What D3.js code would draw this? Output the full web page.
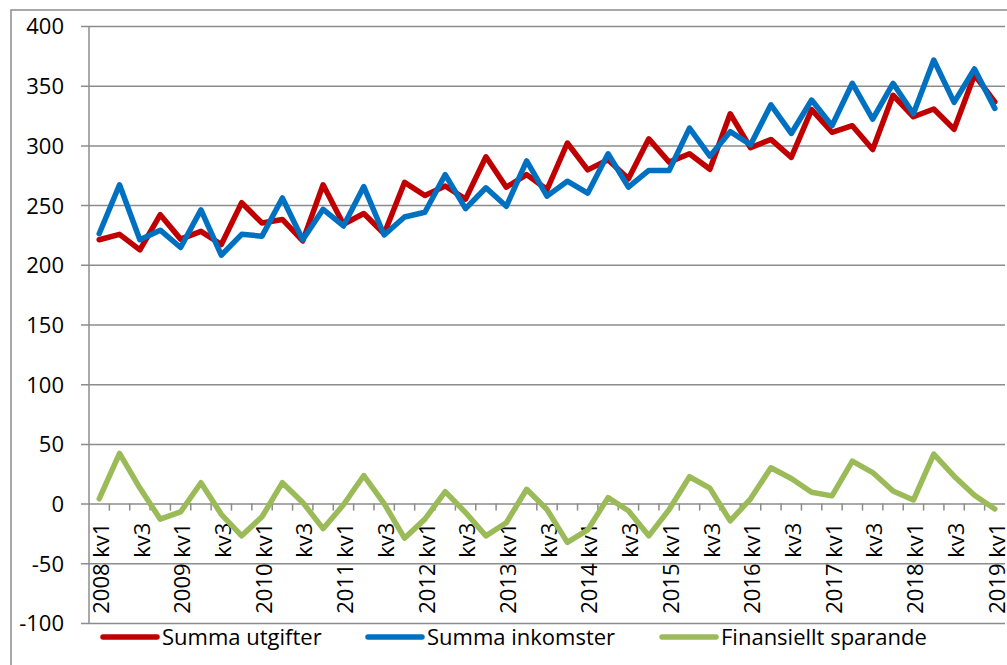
<!DOCTYPE html>
<html>
<head>
<meta charset="utf-8">
<script src="https://cdn.jsdelivr.net/npm/d3@7"></script>
<style>
    body { margin: 0; background: #fff; }
    text { font-family: "Open Sans", "Liberation Sans", sans-serif; fill: #000; }
</style>
</head>
<body>
<div id="chart"></div>
<script>
"use strict";

// quarters 2008 kv1 .. 2019 kv1
var years = [2008, 2009, 2010, 2011, 2012, 2013, 2014, 2015, 2016, 2017, 2018, 2019];
var quarterNames = ["kv1", "kv2", "kv3", "kv4"];
var shownQuarters = ["kv1", "kv3"];
var yTicks = [-100, -50, 0, 50, 100, 150, 200, 250, 300, 350, 400];

var utgifter = [221, 225.5, 212.5, 242, 221.5, 228, 217, 252, 235, 238, 220, 267,
    234, 243, 226, 269, 258, 266, 255, 290.5, 265, 275.5, 263, 302,
    279.5, 288, 272, 305.5, 286, 293, 280, 326.5, 298, 305, 290, 330,
    311, 316.5, 296.5, 342, 324, 330.5, 313.5, 359, 336.5];
var inkomster = [226, 267, 221, 229, 214.5, 246, 208, 225.5, 224, 256, 221, 246.5,
    232.5, 265.5, 225, 240, 244, 275.5, 247, 264.5, 249, 287, 257.5, 270,
    260, 293, 265, 279, 279, 314.5, 291, 311.5, 300.5, 334, 310, 338,
    316.5, 352, 322, 352, 326.5, 371.5, 336, 364, 331];
var sparande = [4, 42, 13, -13, -7, 17.5, -9, -27, -11, 17.5, 1, -21,
    -1, 23.5, 0, -29, -13, 10, -7.5, -27, -16, 12, -5, -32.5,
    -22, 5, -6, -27, -5, 22.5, 13, -14.5, 4, 30, 21, 9.5,
    6.5, 35.5, 26, 10.5, 3, 41.5, 23, 7, -4.5];

var seriesNames = ["Summa utgifter", "Summa inkomster", "Finansiellt sparande"];
var seriesColors = ["#C00000", "#0070C0", "#9BBB59"];

// build category labels
var categories = [];
years.forEach(function(y) {
    quarterNames.forEach(function(q) {
        if (categories.length < utgifter.length) {
            categories.push({ key: y + " " + q, year: y, q: q });
        }
    });
});

var width = 1007;
var height = 665;
var plot = { left: 89, right: 1005, top: 26, bottom: 623 };

var svg = d3.select("#chart")
    .append("svg")
    .attr("width", width)
    .attr("height", height);

// outer chart border
svg.append("rect")
    .attr("x", 11)
    .attr("y", 10)
    .attr("width", 1010)
    .attr("height", 680)
    .attr("fill", "none")
    .attr("stroke", "#8c8c8c")
    .attr("stroke-width", 1.5);

var x = d3.scaleBand()
    .domain(categories.map(function(d) { return d.key; }))
    .range([plot.left, plot.right])
    .padding(0);
var y = d3.scaleLinear()
    .domain([-100, 400])
    .range([plot.bottom, plot.top]);

function cx(i) {
    return x(categories[i].key) + x.bandwidth() / 2;
}

// gridlines + y axis (plain hyphen for negatives, like the original)
var yAxis = d3.axisLeft(y)
    .tickValues(yTicks)
    .tickSize(-(plot.right - plot.left))
    .tickSizeOuter(0)
    .tickPadding(0)
    .tickFormat(function(d) { return String(d); });
var gy = svg.append("g")
    .attr("transform", "translate(" + plot.left + ",0)")
    .call(yAxis);
gy.select(".domain").remove();
gy.selectAll(".tick line")
    .attr("x1", -8)
    .attr("stroke", "#8c8c8c")
    .attr("stroke-width", 1.5);
gy.selectAll(".tick text")
    .attr("x", -25)
    .attr("dy", "0.36em")
    .style("font-size", "22px");

svg.append("line")
    .attr("x1", plot.left)
    .attr("x2", plot.left)
    .attr("y1", plot.top)
    .attr("y2", plot.bottom)
    .attr("stroke", "#8c8c8c")
    .attr("stroke-width", 1.5);

// category axis at zero, ticks between categories
var zeroY = y(0);
svg.append("g")
    .selectAll("line")
    .data(categories.slice(1))
    .enter()
    .append("line")
    .attr("x1", function(d) { return x(d.key); })
    .attr("x2", function(d) { return x(d.key); })
    .attr("y1", zeroY)
    .attr("y2", zeroY + 7)
    .attr("stroke", "#8c8c8c")
    .attr("stroke-width", 1.5);

svg.append("g")
    .selectAll("text")
    .data(categories.filter(function(d) { return shownQuarters.indexOf(d.q) >= 0; }))
    .enter()
    .append("text")
    .attr("transform", function(d) {
        return "translate(" + (x(d.key) + x.bandwidth() / 2 + 2) + "," + (zeroY + 19) + ") rotate(-90)";
    })
    .attr("text-anchor", "end")
    .attr("dy", "0.35em")
    .style("font-size", "22px")
    .text(function(d) { return d.q === "kv1" ? d.year + " " + d.q : d.q; });

// series lines
var line = d3.line()
    .x(function(d, i) { return cx(i); })
    .y(function(d) { return y(d); });

[utgifter, inkomster, sparande].forEach(function(values, k) {
    svg.append("path")
        .datum(values)
        .attr("d", line)
        .attr("fill", "none")
        .attr("stroke", seriesColors[k])
        .attr("stroke-width", 5.5)
        .attr("stroke-linejoin", "round")
        .attr("stroke-linecap", "round");
});

// legend
var legendX = [103, 368, 662];
var legend = svg.append("g")
    .selectAll("g")
    .data(seriesNames)
    .enter()
    .append("g")
    .attr("transform", function(d, i) { return "translate(" + legendX[i] + ",637)"; });
legend.append("line")
    .attr("x1", 0)
    .attr("x2", 54)
    .attr("stroke", function(d, i) { return seriesColors[i]; })
    .attr("stroke-width", 5.5)
    .attr("stroke-linecap", "round");
legend.append("text")
    .attr("x", 59)
    .attr("dy", "0.36em")
    .style("font-size", "22px")
    .text(function(d) { return d; });
</script>
</body>
</html>
